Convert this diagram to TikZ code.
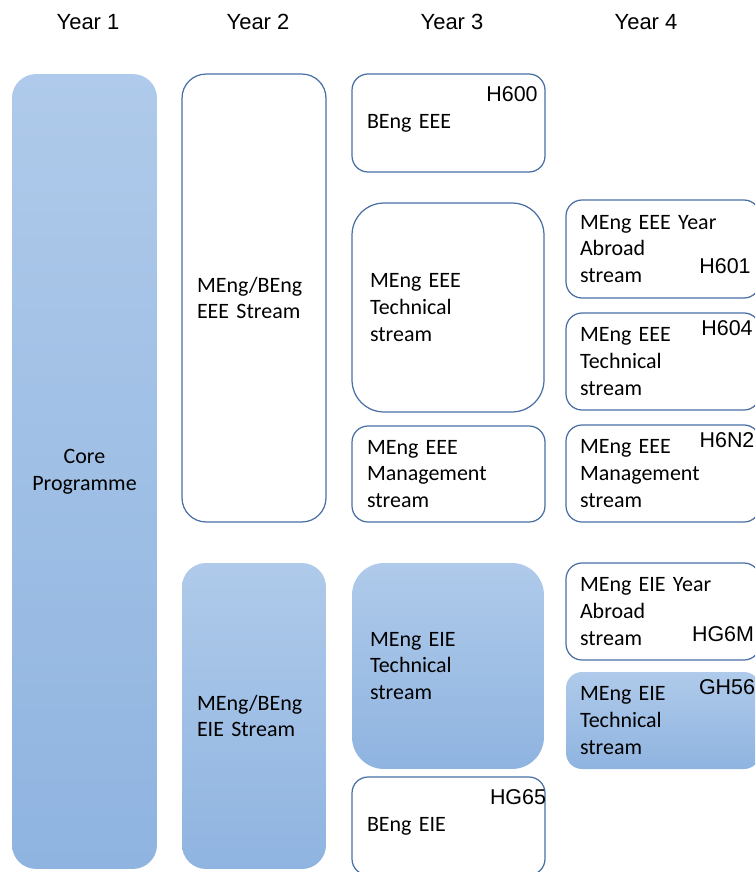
\documentclass[tikz,border=0pt]{standalone}
\usepackage{fontspec}
\usepackage{tikz}
\setmainfont{Carlito}
\newfontfamily\arialfont{Liberation Sans}

\definecolor{boxline}{HTML}{4A6FA5}
\definecolor{shadetop}{HTML}{AFCAEA}
\definecolor{shadebot}{HTML}{8FB4E0}

\tikzset{
	wbox/.style={draw=boxline, line width=0.7pt, fill=white, align=left, font=\fontsize{12.5}{15.2}\selectfont, inner xsep=0.3cm},
	gbox/.style={top color=shadetop, bottom color=shadebot, draw=none, align=left, font=\fontsize{12.5}{15.2}\selectfont, inner xsep=0.3cm},
	code/.style={font=\arialfont\fontsize{12.2}{14}\selectfont, inner sep=0pt},
	yearlabel/.style={font=\arialfont\fontsize{12.5}{14}\selectfont, inner sep=0pt}
}

\begin{document}
\begin{tikzpicture}[x=0.02cm, y=-0.02cm]
%		\draw[help lines] (0,0) grid (755,872);
		\useasboundingbox (0,0) rectangle (755,872);
		\clip (0,0) rectangle (755,872);
		
		\node[yearlabel] (y1) at (88,22) {Year 1};
		\node[yearlabel] (y2) at (258,22) {Year 2};
		\node[yearlabel] (y3) at (452,22) {Year 3};
		\node[yearlabel] (y4) at (646,22) {Year 4};
		
		\node[gbox, align=center, minimum width=2.9cm, minimum height=15.9cm, rounded corners=0.48cm] (core) at (84.5,471.5) {Core\\Programme};
		
		\node[wbox, text width=2.28cm, minimum width=2.88cm, minimum height=8.96cm, rounded corners=0.48cm] (eeestream) at (254,298) {MEng/BEng\\EEE Stream};
		\node[gbox, text width=2.28cm, minimum width=2.88cm, minimum height=6.12cm, rounded corners=0.48cm] (eiestream) at (254,716) {MEng/BEng\\EIE Stream};
		
		\node[wbox, text width=3.26cm, minimum width=3.86cm, minimum height=1.96cm, rounded corners=0.32cm] (bengeee) at (448.5,123) {BEng EEE};
		\node[wbox, text width=3.12cm, inner xsep=0.36cm, minimum width=3.84cm, minimum height=4.18cm, rounded corners=0.64cm] (eeetech) at (448,307.5) {MEng EEE\\Technical\\stream};
		\node[wbox, text width=3.26cm, minimum width=3.86cm, minimum height=1.92cm, rounded corners=0.32cm] (eeemgmt) at (448.5,474) {MEng EEE\\Management\\stream};
		\node[gbox, text width=3.12cm, inner xsep=0.36cm, minimum width=3.84cm, minimum height=4.12cm, rounded corners=0.64cm] (eietech) at (448,666) {MEng EIE\\Technical\\stream};
		\node[wbox, text width=3.26cm, minimum width=3.86cm, minimum height=1.96cm, rounded corners=0.32cm] (bengeie) at (448.5,826) {BEng EIE};
		
		\node[wbox, text width=3.32cm, inner xsep=0.28cm, minimum width=3.88cm, minimum height=1.96cm, rounded corners=0.32cm] (eeeabroad) at (663,249) {MEng EEE Year\\Abroad\\stream};
		\node[wbox, text width=3.32cm, inner xsep=0.28cm, minimum width=3.88cm, minimum height=1.94cm, rounded corners=0.32cm] (eeetech4) at (663,361.5) {MEng EEE\\Technical\\stream};
		\node[wbox, text width=3.32cm, inner xsep=0.28cm, minimum width=3.88cm, minimum height=1.94cm, rounded corners=0.32cm] (eeemgmt4) at (663,473.5) {MEng EEE\\Management\\stream};
		\node[wbox, text width=3.32cm, inner xsep=0.28cm, minimum width=3.88cm, minimum height=1.94cm, rounded corners=0.32cm] (eieabroad) at (663,611.5) {MEng EIE Year\\Abroad\\stream};
		\node[gbox, text width=3.32cm, inner xsep=0.28cm, minimum width=3.88cm, minimum height=1.94cm, rounded corners=0.32cm] (eietech4) at (663,720.5) {MEng EIE\\Technical\\stream};
		
		% programme codes
		\node[code] (h600) at (512,94) {H600};
		\node[code] (hg65) at (518,797) {HG65};
		\node[code] (h601) at (725,266) {H601};
		\node[code] (h604) at (727,328) {H604};
		\node[code] (h6n2) at (727,440) {H6N2};
		\node[code] (hg6m) at (723,634) {HG6M};
		\node[code] (gh56) at (727,687) {GH56};
	\end{tikzpicture}
\end{document}
